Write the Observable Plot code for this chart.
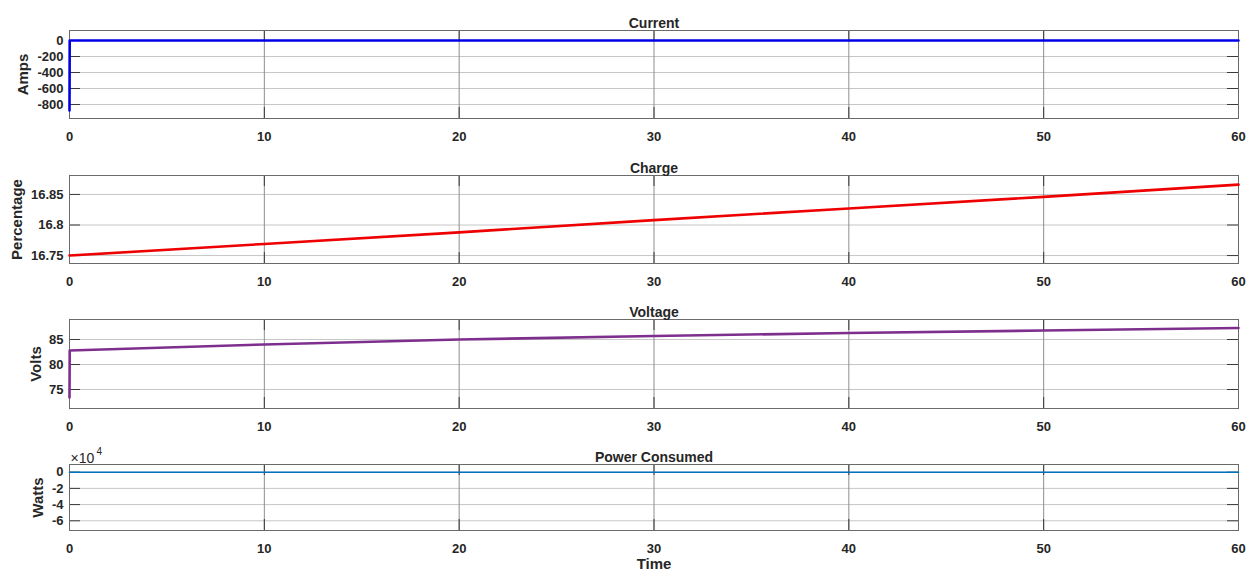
<!DOCTYPE html>
<html>
<head>
<meta charset="utf-8">
<script src="https://cdn.jsdelivr.net/npm/d3@7"></script>
<script src="https://cdn.jsdelivr.net/npm/@observablehq/plot@0.6"></script>
<style>
  html, body { margin: 0; padding: 0; background: #fff; }
  svg { display: block; overflow: visible; }
</style>
</head>
<body>
<div id="chart"></div>
<script>
// ---- data ----
const time = [0, 0.01, 10, 20, 30, 40, 50, 60];
const currentAmps = [-875, 0, 0, 0, 0, 0, 0, 0];
const chargePct = [16.750, 16.750, 16.769, 16.788, 16.808, 16.827, 16.846, 16.866];
const voltageV = [73.4, 82.8, 84.0, 85.0, 85.7, 86.3, 86.8, 87.3];
const powerW = [0, 0, 0, 0, 0, 0, 0, 0];

const xTicks = [0, 10, 20, 30, 40, 50, 60];
const currentTicks = [0, -200, -400, -600, -800];
const chargeTicks = [16.75, 16.8, 16.85];
const voltageTicks = [75, 80, 85];
const powerTicks = [0, -20000, -40000, -60000];

const titles = ["Current", "Charge", "Voltage", "Power Consumed"];
const yLabels = ["Amps", "Percentage", "Volts", "Watts"];
const xLabel = "Time";
const powerExpBase = "×10";
const powerExp = "4";

// ---- drawing ----
const W = 1253, ML = 69, MR = 15;
const frameW = W - ML - MR;
const font = "'Liberation Sans', Arial, Helvetica, sans-serif";

function panel(o) {
  const data = time.map((t, i) => ({t, v: o.values[i]}));
  const height = o.mt + o.fh + o.mb;
  const tickLen = 11;
  const marks = [
    Plot.ruleY(o.yTicks, {stroke: "#c6c6c6", strokeWidth: 1}),
    Plot.ruleX(xTicks, {stroke: "#8e8e8e", strokeWidth: 1}),
    Plot.ruleY(o.yTicks, {stroke: "#3a3a3a", insetRight: frameW - tickLen}),
    Plot.ruleY(o.yTicks, {stroke: "#3a3a3a", insetLeft: frameW - tickLen}),
    Plot.ruleX(xTicks, {stroke: "#3a3a3a", insetBottom: o.fh - tickLen}),
    Plot.ruleX(xTicks, {stroke: "#3a3a3a", insetTop: o.fh - tickLen}),
    Plot.frame({stroke: "#6a6a6a", strokeWidth: 1}),
    Plot.line(data, {x: "t", y: "v", stroke: o.color, strokeWidth: o.sw}),
    Plot.text([o.title], {frameAnchor: "top", dy: -12, fontSize: 14, fontWeight: "bold", fill: "#262626"}),
    Plot.text([o.ylabel], {frameAnchor: "left", textAnchor: "middle", dx: o.ldx, rotate: -90, fontSize: 15, fontWeight: "bold", fill: "#262626"})
  ];
  if (o.extra) marks.push(...o.extra);
  return Plot.plot({
    width: W, height,
    marginLeft: ML, marginRight: MR, marginTop: o.mt, marginBottom: o.mb,
    style: {fontFamily: font, fontSize: "13px", fontWeight: "bold", color: "#262626", background: "transparent", overflow: "visible"},
    x: {domain: [0, 60], ticks: xTicks, tickSize: 0, tickPadding: 13, tickFormat: d => String(d), label: null},
    y: {domain: o.domain, ticks: o.yTicks, tickSize: 0, tickPadding: 6, tickFormat: o.fmt || (d => String(d)), label: null},
    marks
  });
}

const root = document.getElementById("chart");
root.append(panel({values: currentAmps, domain: [-975, 125], yTicks: currentTicks, color: "#0000e6", sw: 2.6,
  title: titles[0], ylabel: yLabels[0], ldx: -46, mt: 30, fh: 88, mb: 27}));
root.append(panel({values: chargePct, domain: [16.737, 16.881], yTicks: chargeTicks, color: "#ee0000", sw: 2.6,
  title: titles[1], ylabel: yLabels[1], ldx: -52, mt: 30, fh: 88, mb: 27}));
root.append(panel({values: voltageV, domain: [71.2, 89], yTicks: voltageTicks, color: "#7e2f8e", sw: 2.6,
  title: titles[2], ylabel: yLabels[2], ldx: -33, mt: 29, fh: 89, mb: 27}));
root.append(panel({values: powerW, domain: [-72000, 9500], yTicks: powerTicks, color: "#0072bd", sw: 1.6,
  fmt: d => String(d / 10000),
  title: titles[3], ylabel: yLabels[3], ldx: -31, mt: 29, fh: 66, mb: 48,
  extra: [
    Plot.text([powerExpBase], {frameAnchor: "top-left", dx: 1, dy: -11, textAnchor: "start", fontSize: 14, fontWeight: "normal", fill: "#262626"}),
    Plot.text([powerExp], {frameAnchor: "top-left", dx: 27, dy: -17, textAnchor: "start", fontSize: 10, fontWeight: "normal", fill: "#262626"}),
    Plot.text([xLabel], {frameAnchor: "bottom", dy: 38, fontSize: 15, fontWeight: "bold", fill: "#262626"})
  ]}));
</script>
</body>
</html>
